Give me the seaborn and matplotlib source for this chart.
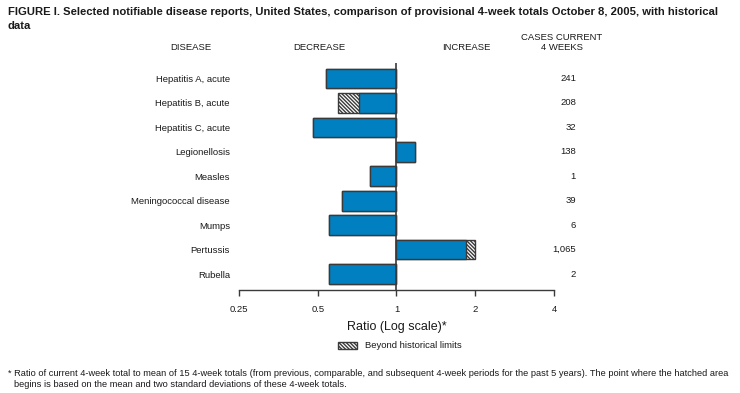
import numpy as np
import matplotlib
matplotlib.use("Agg")
import matplotlib.pyplot as plt
import seaborn as sns
from matplotlib.patches import Patch

# ── Data ──────────────────────────────────────────────────────────────────────
diseases = [
    "Hepatitis A, acute", "Hepatitis B, acute", "Hepatitis C, acute",
    "Legionellosis", "Measles", "Meningococcal disease", "Mumps",
    "Pertussis", "Rubella",
]
ratio = [0.54, 0.72, 0.48, 1.18, 0.79, 0.62, 0.55, 1.84, 0.55]
# ratio including the part beyond historical limits (hatched)
ratio_total = [0.54, 0.60, 0.48, 1.18, 0.79, 0.62, 0.55, 2.00, 0.55]
cases = ["241", "208", "32", "138", "1", "39", "6", "1,065", "2"]
ticks = [0.25, 0.5, 1, 2, 4]
tick_labels = ["0.25", "0.5", "1", "2", "4"]

BLUE = "#0080C0"
EDGE = "#3a3a3a"
TXT = "#1a1a1a"
HATCH = "\\" * 9

# ── Style ─────────────────────────────────────────────────────────────────────
sns.set_style("white")
plt.rcParams["font.family"] = ["Liberation Sans", "DejaVu Sans"]
plt.rcParams["text.color"] = TXT
plt.rcParams["hatch.linewidth"] = 1.0
plt.rcParams["hatch.color"] = EDGE

W, H = 740, 393
fig = plt.figure(figsize=(W / 100, H / 100), dpi=100)
ax = fig.add_axes([239 / W, (H - 290) / H, 315 / W, 227 / H])

# hatched bars first, blue bars drawn over them
sns.barplot(x=np.log2(ratio_total), y=diseases, orient="h", color="white",
            edgecolor=EDGE, linewidth=1, hatch=HATCH, width=0.8,
            saturation=1, ax=ax)
sns.barplot(x=np.log2(ratio), y=diseases, orient="h", color=BLUE,
            edgecolor=EDGE, linewidth=1, width=0.8, saturation=1, ax=ax)

ax.axvline(0, color=EDGE, lw=1.2, zorder=5)
ax.set_xlim(-2, 2)
ax.set_ylim(8.65, -0.63)
ax.set_xticks(np.log2(ticks))
ax.set_xticklabels(tick_labels)
ax.tick_params(axis="x", direction="out", length=4, width=1, color=EDGE,
               labelsize=6.8, labelcolor=TXT, pad=6.5, bottom=True)
ax.tick_params(axis="y", length=0, labelsize=6.8, labelcolor=TXT, pad=6.5)
ax.set_ylabel("")
ax.set_xlabel("Ratio (Log scale)*", fontsize=9, labelpad=5, color=TXT)
for side in ["top", "right", "left"]:
    ax.spines[side].set_visible(False)
ax.spines["bottom"].set_color(EDGE)
ax.spines["bottom"].set_linewidth(1)

# current case counts
for i, c in enumerate(cases):
    ax.text((576 - 239) / 315, i, c, transform=ax.get_yaxis_transform(),
            ha="right", va="center", fontsize=6.8, clip_on=False)

# ── Header texts ──────────────────────────────────────────────────────────────
def fy(py):
    return 1 - py / H

fig.text(8 / W, fy(12), "FIGURE I. Selected notifiable disease reports, United States, "
         "comparison of provisional 4-week totals October 8, 2005, with historical",
         fontsize=8.15, fontweight="bold", va="center")
fig.text(8 / W, fy(26), "data", fontsize=8.15, fontweight="bold", va="center")
fig.text(191 / W, fy(47), "DISEASE", fontsize=6.8, ha="center", va="center")
fig.text(319 / W, fy(47), "DECREASE", fontsize=6.8, ha="center", va="center")
fig.text(466 / W, fy(47), "INCREASE", fontsize=6.8, ha="center", va="center")
fig.text(562 / W, fy(37), "CASES CURRENT", fontsize=6.8, ha="center", va="center")
fig.text(562 / W, fy(47), "4 WEEKS", fontsize=6.8, ha="center", va="center")

# ── Legend ────────────────────────────────────────────────────────────────────
handle = Patch(facecolor="white", edgecolor=EDGE, hatch=HATCH,
               label="Beyond historical limits")
fig.legend(handles=[handle], loc="center", bbox_to_anchor=(400 / W, fy(346)),
           frameon=False, fontsize=6.8, handlelength=2, handleheight=0.8,
           handletextpad=0.8)

# ── Footnote ──────────────────────────────────────────────────────────────────
fig.text(8 / W, fy(374), "* Ratio of current 4-week total to mean of 15 4-week totals "
         "(from previous, comparable, and subsequent 4-week periods for the past 5 years). "
         "The point where the hatched area", fontsize=6.7, va="center")
fig.text(14 / W, fy(384.5), "begins is based on the mean and two standard deviations "
         "of these 4-week totals.", fontsize=6.7, va="center")

fig.savefig("out.png", dpi=100)
